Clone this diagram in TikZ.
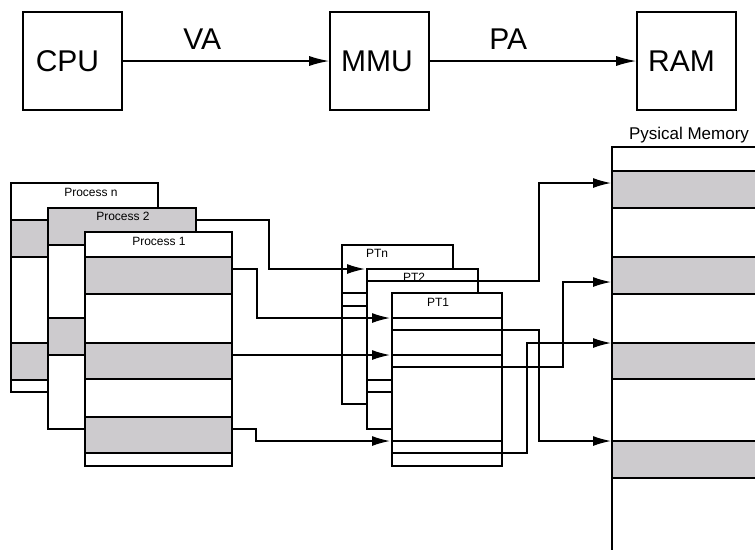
\documentclass[tikz,border=0pt]{standalone}
\usepackage{fontspec}
\setmainfont{Liberation Sans}
\usetikzlibrary{arrows.meta,calc}
\definecolor{band}{RGB}{205,203,206}
\begin{document}
\begin{tikzpicture}[x=1pt,y=-1pt,
  bigbox/.style={draw,line width=1.6pt,minimum width=99pt,minimum height=98pt,inner sep=0pt,font=\fontsize{30}{30}\selectfont},
  biglabel/.style={font=\fontsize{30}{30}\selectfont,anchor=base,inner sep=0pt},
  frame/.style={line width=1.7pt},
  conn/.style={line width=1.4pt},
  arr/.style={conn,-{Latex[length=20pt,width=10pt]}},
  arrs/.style={conn,-{Latex[length=18pt,width=10pt]}},
  small/.style={font=\fontsize{12}{14}\selectfont,inner sep=0pt},
  pmlabel/.style={font=\fontsize{17}{19}\selectfont,inner sep=0pt}]
\useasboundingbox (0,0) rectangle (755,550);

% ---------- top row ----------
\node[bigbox] (cpu) at (72.5,61) {\kern-10pt CPU};
\node[bigbox] (mmu) at (379.5,61) {\kern-5pt MMU};
\node[bigbox] (ram) at (686.5,61) {\kern-10pt RAM};
\draw[arr] (cpu) -- node[biglabel,pos=0.385,yshift=12pt] (va) {VA} (mmu);
\draw[arr] (mmu) -- node[biglabel,pos=0.38,yshift=12pt] (pa) {PA} (ram);

% ---------- Process n ----------
\fill[white] (11,183) rectangle (158,392);
\fill[band] (11,220) rectangle (158,257);
\fill[band] (11,343) rectangle (158,380);
\draw[frame] (11,183) rectangle (158,392);
\foreach \y in {220,257,343,380} \draw[frame] (11,\y) -- (158,\y);
\node[small] (procn) at (91,192) {Process n};

% ---------- Process 2 ----------
\fill[white] (48,208) rectangle (196,429);
\fill[band] (48,208) rectangle (196,245);
\fill[band] (48,318) rectangle (196,355);
\draw[frame] (48,208) rectangle (196,429);
\foreach \y in {245,318,355} \draw[frame] (48,\y) -- (196,\y);
\node[small] (proc2) at (123,216) {Process 2};

% ---------- Process 1 ----------
\fill[white] (85,232) rectangle (232,466);
\fill[band] (85,257) rectangle (232,294);
\fill[band] (85,343) rectangle (232,379);
\fill[band] (85,417) rectangle (232,453);
\draw[frame] (85,232) rectangle (232,466);
\foreach \y in {257,294,343,379,417,453} \draw[frame] (85,\y) -- (232,\y);
\node[small] (proc1) at (159,241) {Process 1};

% ---------- page tables ----------
\draw[frame,fill=white] (342,245) rectangle (453,404);
\foreach \y in {293,306} \draw[frame] (342,\y) -- (453,\y);
\node[small] (ptn) at (377,253) {PTn};

\draw[frame,fill=white] (367,269) rectangle (478,429);
\node[small] (pt2) at (414,277) {PT2};
\foreach \y in {281,380,392} \draw[conn] (367,\y) -- (478,\y);

\draw[frame,fill=white] (392,293) rectangle (502,466);
\node[small] (pt1) at (438,302) {PT1};
\foreach \y in {318,330,355,367,441,453} \draw[conn] (392,\y) -- (502,\y);

% ---------- physical memory ----------
\fill[band] (612,171) rectangle (756,208);
\fill[band] (612,257) rectangle (756,294);
\fill[band] (612,343) rectangle (756,379);
\fill[band] (612,441) rectangle (756,478);
\draw[frame] (756,147) -- (612,147) -- (612,550);
\foreach \y in {171,208,257,294,343,379,441,478} \draw[frame] (612,\y) -- (756,\y);
\node[pmlabel] (pmlab) at (689,135) {Pysical Memory};

% ---------- connector end points ----------
\coordinate (p2a) at (196,220);
\coordinate (p1a) at (232,269);
\coordinate (p1b) at (232,355);
\coordinate (p1c) at (232,429);
\coordinate (ptnin) at (365,269);
\coordinate (pt1a) at (390,318);
\coordinate (pt1b) at (390,355);
\coordinate (pt1c) at (390,441);
\coordinate (pt2o) at (478,281);
\coordinate (pt1o1) at (502,330);
\coordinate (pt1o2) at (502,367);
\coordinate (pt1o3) at (502,453);
\coordinate (pm1) at (611,183);
\coordinate (pm2) at (611,282);
\coordinate (pm3) at (611,343);
\coordinate (pm4) at (611,441);

% ---------- connectors ----------
\draw[arrs] (p2a) -- (269,220) |- (ptnin);
\draw[arrs] (p1a) -- (257,269) |- (pt1a);
\draw[arrs] (p1b) -- (pt1b);
\draw[arrs] (p1c) -- (256,429) |- (pt1c);

\draw[arrs] (pt2o) -- (539,281) |- (pm1);
\draw[arrs] (pt1o2) -- (563,367) |- (pm2);
\draw[arrs] (pt1o3) -- (527,453) |- (pm3);
\draw[arrs] (pt1o1) -- (539,330) |- (pm4);
\end{tikzpicture}
\end{document}
